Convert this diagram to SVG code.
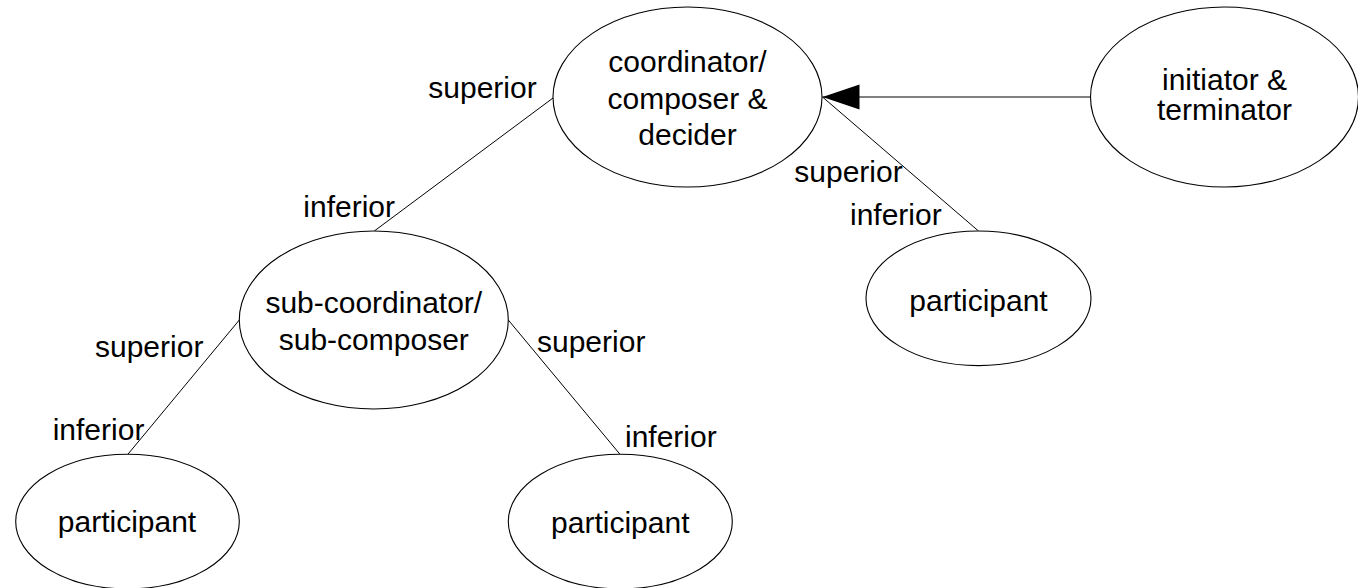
<svg xmlns="http://www.w3.org/2000/svg" width="1358" height="588" viewBox="0 0 1358 588">
  <defs>
    <style>
      .node ellipse { fill: #ffffff; stroke: #000000; stroke-width: 1.1; }
      .node text, .lbl { font-family: "Liberation Sans", Arial, sans-serif; font-size: 30px; fill: #000000; }
      .node text { text-anchor: middle; }
      .edge { stroke: #000000; stroke-width: 1; fill: none; }
    </style>
    <marker id="arrow" markerUnits="userSpaceOnUse" markerWidth="38" markerHeight="26" refX="37" refY="12.5" orient="auto">
      <path d="M0,0 L37,12.5 L0,25 Z" fill="#000000"/>
    </marker>
  </defs>
  <rect width="1358" height="588" fill="#ffffff"/>

  <!-- connectors -->
  <g id="connectors">
    <path class="edge" d="M553,98 L374.3,231"/>
    <path class="edge" d="M1091,97 L822.5,97" marker-end="url(#arrow)"/>
    <path class="edge" d="M822.5,97 L978.5,231"/>
    <path class="edge" d="M239.3,320 L127.7,454.5"/>
    <path class="edge" d="M508.3,320 L620,454.3"/>
  </g>

  <!-- role labels at connector ends -->
  <g id="labels">
    <text class="lbl" x="428.3" y="98.3">superior</text>
    <text class="lbl" x="303.3" y="216.7">inferior</text>
    <text class="lbl" x="794.3" y="181.7">superior</text>
    <text class="lbl" x="850" y="225">inferior</text>
    <text class="lbl" x="95" y="357.3">superior</text>
    <text class="lbl" x="52.7" y="440">inferior</text>
    <text class="lbl" x="537" y="352">superior</text>
    <text class="lbl" x="625" y="446.7">inferior</text>
  </g>

  <g id="coordinator" class="node">
    <ellipse cx="687.5" cy="97" rx="134.5" ry="90"/>
    <text x="687.5" y="72">coordinator/</text>
    <text x="687.5" y="108.5">composer &amp;</text>
    <text x="687.5" y="145">decider</text>
  </g>

  <g id="initiator" class="node">
    <ellipse cx="1224.5" cy="97" rx="134" ry="90"/>
    <text x="1224.5" y="90">initiator &amp;</text>
    <text x="1224.5" y="119.5">terminator</text>
  </g>

  <g id="sub-coordinator" class="node">
    <ellipse cx="373.8" cy="320" rx="134.5" ry="89"/>
    <text x="373.8" y="313.3">sub-coordinator/</text>
    <text x="373.8" y="350">sub-composer</text>
  </g>

  <g id="participant-right" class="node">
    <ellipse cx="978.5" cy="298.3" rx="112.5" ry="67.3"/>
    <text x="978.5" y="310.7">participant</text>
  </g>

  <g id="participant-left" class="node">
    <ellipse cx="127.5" cy="521.6" rx="111.8" ry="67.3"/>
    <text x="127" y="532.3">participant</text>
  </g>

  <g id="participant-mid" class="node">
    <ellipse cx="620.3" cy="521.6" rx="112" ry="67.3"/>
    <text x="620.3" y="533.3">participant</text>
  </g>
</svg>
